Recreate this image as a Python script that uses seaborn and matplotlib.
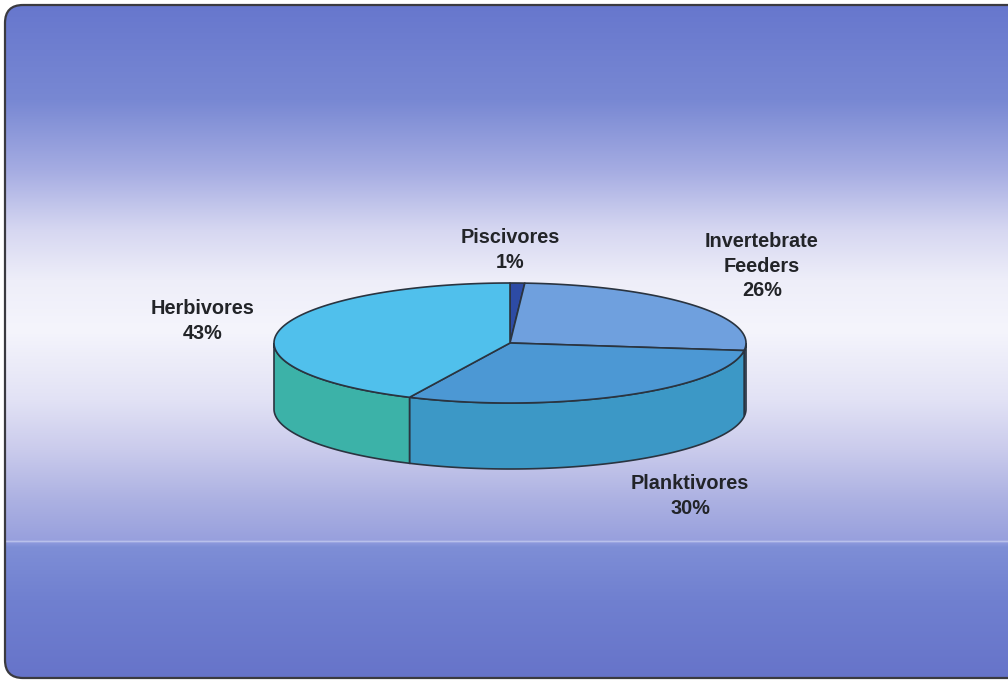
import numpy as np
import matplotlib
matplotlib.use("Agg")
import matplotlib.pyplot as plt
from matplotlib.patches import FancyBboxPatch
import seaborn as sns

# Feeding guilds and their share of the fish community (%)
categories = ["Piscivores", "Invertebrate\nFeeders", "Planktivores", "Herbivores"]
shares = [1, 26, 30, 43]

# Colours of the top faces and the rim of each wedge
top_colors = ["#2d4ba5", "#6fa0de", "#4c98d4", "#50c0ec"]
side_colors = ["#243d88", "#5a88c8", "#3c98c6", "#3cb2a8"]

# Label anchors (pixel coordinates, centre of each text block)
label_xy = [(510, 250), (762, 266), (690, 496), (203, 321)]

sns.set_theme(style="white")
plt.rcParams["font.family"] = ["Liberation Sans", "DejaVu Sans"]
palette_top = sns.color_palette(top_colors)
palette_side = sns.color_palette(side_colors)

W, H = 1008, 681
fig = plt.figure(figsize=(W / 100, H / 100), dpi=100)
ax = fig.add_axes([0, 0, 1, 1])
ax.set_xlim(0, W)
ax.set_ylim(H, 0)
ax.axis("off")
fig.patch.set_facecolor("white")

# Slide background: blue -> white -> blue vertical gradient inside a rounded frame
stops_y = [0, 100, 170, 230, 280, 330, 400, 450, 500, 540, 541.5, 543, 547, 600, 681]
stops_c = np.array([
    (102, 118, 205), (120, 136, 211), (165, 172, 226), (214, 215, 241),
    (238, 238, 249), (245, 245, 252), (226, 226, 245), (202, 203, 236),
    (172, 177, 226), (152, 160, 221), (185, 192, 235), (140, 152, 220),
    (126, 142, 214), (112, 128, 208), (102, 115, 201)]) / 255.0
ys = np.arange(H) + 0.5
grad = np.stack([np.interp(ys, stops_y, stops_c[:, k]) for k in range(3)], axis=-1)
grad = np.repeat(grad[:, None, :], 2, axis=1)
frame = FancyBboxPatch((5, 5), W + 20, 673, boxstyle="round,pad=0,rounding_size=18",
                       facecolor="none", edgecolor="#3a3a40", linewidth=1.6, zorder=3)
img = ax.imshow(grad, extent=[0, W, H, 0], aspect="auto", zorder=1,
                interpolation="nearest")
ax.add_patch(frame)
img.set_clip_path(frame)

# 3-D pie geometry
cx, cy, rx, ry, depth = 510, 343, 236, 60, 66
edge = "#2a3440"

def rim(a0, a1, n=120):
    t = np.radians(np.linspace(a0, a1, n))
    return cx + rx * np.sin(t), cy - ry * np.cos(t)

bounds = np.concatenate([[0], np.cumsum(shares)]) / np.sum(shares) * 360.0

# Rim (side walls) of the front half
for i in range(len(shares)):
    a0, a1 = max(bounds[i], 90), min(bounds[i + 1], 270)
    if a1 <= a0:
        continue
    x, y = rim(a0, a1)
    px = np.concatenate([x, x[::-1]])
    py = np.concatenate([y, (y + depth)[::-1]])
    ax.fill(px, py, facecolor=palette_side[i], edgecolor=edge, linewidth=1.2, zorder=4)

# Top faces
for i in range(len(shares)):
    x, y = rim(bounds[i], bounds[i + 1])
    px = np.concatenate([[cx], x, [cx]])
    py = np.concatenate([[cy], y, [cy]])
    ax.fill(px, py, facecolor=palette_top[i], edgecolor=edge, linewidth=1.2,
            joinstyle="round", zorder=5)

# Category labels with percentages
for name, val, (lx, ly) in zip(categories, shares, label_xy):
    ax.text(lx, ly, f"{name}\n{val}%", ha="center", va="center", fontsize=14.3,
            fontweight="bold", color="#222428", linespacing=1.38, zorder=6)

fig.savefig("out.png", dpi=100)
